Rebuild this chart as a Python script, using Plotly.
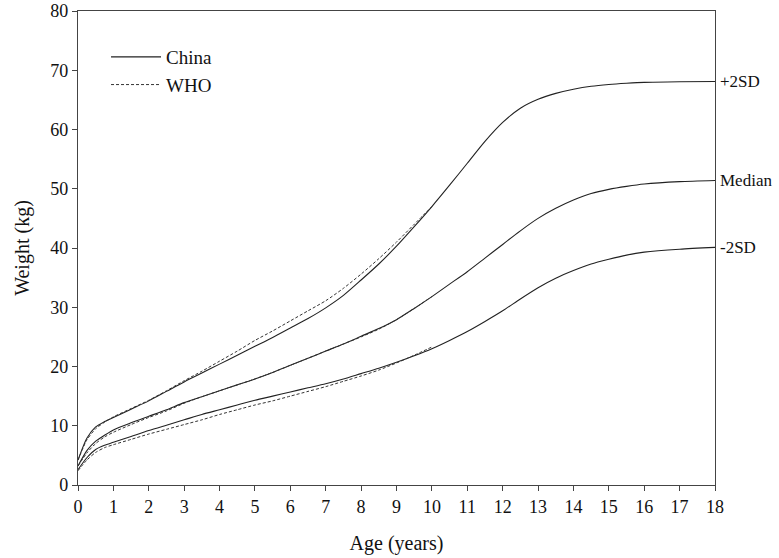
import plotly.graph_objects as go

ages_china = [0, 0.25, 0.5, 0.75, 1, 1.5, 2, 2.5, 3, 3.5, 4, 4.5, 5, 5.5, 6, 6.5, 7, 7.5, 8,
              8.5, 9, 9.5, 10, 10.5, 11, 11.5, 12, 12.5, 13, 13.5, 14, 14.5, 15, 15.5, 16, 17, 18]
china_p2sd = [4.2, 7.9, 9.8, 10.7, 11.4, 12.8, 14.2, 15.8, 17.4, 18.9, 20.4, 21.9, 23.4, 24.9, 26.5,
              28.1, 29.9, 32.0, 34.6, 37.3, 40.3, 43.6, 47.0, 50.6, 54.3, 58.0, 61.2, 63.6, 65.1,
              66.1, 66.8, 67.3, 67.6, 67.8, 67.95, 68.05, 68.1]
china_median = [3.2, 5.8, 7.4, 8.4, 9.3, 10.5, 11.6, 12.7, 13.9, 14.9, 15.9, 16.9, 17.9, 19.0, 20.2,
                21.4, 22.6, 23.8, 25.1, 26.4, 27.9, 29.8, 31.8, 33.9, 36.0, 38.3, 40.6, 42.9, 45.0,
                46.7, 48.1, 49.2, 49.9, 50.4, 50.8, 51.2, 51.4]
china_m2sd = [2.6, 4.6, 6.0, 6.7, 7.2, 8.2, 9.2, 10.1, 11.0, 11.9, 12.7, 13.5, 14.3, 15.0, 15.7,
              16.4, 17.1, 17.9, 18.8, 19.7, 20.7, 21.8, 23.0, 24.4, 25.9, 27.6, 29.4, 31.4, 33.3,
              34.9, 36.2, 37.3, 38.1, 38.8, 39.3, 39.8, 40.1]

ages_who = [0, 0.25, 0.5, 0.75, 1, 1.5, 2, 2.5, 3, 3.5, 4, 4.5, 5, 5.5, 6, 6.5, 7, 7.5, 8, 8.5,
            9, 9.5, 10]
who_p2sd = [4.2, 7.6, 9.5, 10.6, 11.5, 12.9, 14.3, 15.9, 17.6, 19.2, 20.9, 22.6, 24.4, 26.0, 27.7,
            29.4, 31.1, 33.2, 35.6, 38.2, 41.0, 44.0, 47.0]
who_median = [3.2, 5.4, 7.0, 8.1, 8.9, 10.2, 11.4, 12.5, 13.8, 14.9, 15.9, 16.9, 17.9, 19.0, 20.2,
              21.4, 22.6, 23.8, 25.0, 26.3, 27.9, 29.8, 31.8]
who_m2sd = [2.4, 4.2, 5.5, 6.3, 6.8, 7.7, 8.6, 9.4, 10.2, 11.0, 11.9, 12.7, 13.5, 14.2, 15.0,
            15.8, 16.6, 17.5, 18.4, 19.4, 20.6, 21.9, 23.3]

end_labels = ["+2SD", "Median", "-2SD"]

FONT = "Liberation Serif"
fig = go.Figure()

for i, ys in enumerate([china_p2sd, china_median, china_m2sd]):
    fig.add_trace(go.Scatter(
        x=ages_china, y=ys, mode="lines", name="China", legendgroup="china",
        showlegend=(i == 0), line=dict(color="#222", width=1.1, shape="spline", smoothing=0.7)))
for i, ys in enumerate([who_p2sd, who_median, who_m2sd]):
    fig.add_trace(go.Scatter(
        x=ages_who, y=ys, mode="lines", name="WHO", legendgroup="who",
        showlegend=(i == 0), line=dict(color="#333", width=1, dash="3px,2px", shape="spline", smoothing=0.7)))

for lab, ys in zip(end_labels, [china_p2sd, china_median, china_m2sd]):
    fig.add_annotation(x=ages_china[-1], y=ys[-1], text=lab, showarrow=False,
                       xanchor="left", yanchor="middle", xshift=3,
                       font=dict(family=FONT, size=17, color="#111"))

axis_common = dict(showgrid=False, zeroline=False, showline=True, linecolor="#444", linewidth=1.2,
                   mirror=True, ticks="outside", ticklen=5, tickcolor="#444", automargin=False,
                   tickfont=dict(family=FONT, size=18, color="#111"))

fig.update_layout(
    width=779, height=558,
    margin=dict(l=78, r=64, t=11, b=73),
    paper_bgcolor="white", plot_bgcolor="white",
    font=dict(family=FONT, size=18, color="#111"),
    legend=dict(x=0.044, y=0.943, xanchor="left", yanchor="top", bgcolor="rgba(0,0,0,0)",
                font=dict(family=FONT, size=19), tracegroupgap=0, itemwidth=50),
    xaxis=dict(range=[0, 18], tickvals=list(range(0, 19)),
               title=dict(text="Age (years)", font=dict(family=FONT, size=20), standoff=20),
               **axis_common),
    yaxis=dict(range=[0, 80], tickvals=list(range(0, 81, 10)),
               title=dict(text="Weight (kg)", font=dict(family=FONT, size=20), standoff=15),
               **axis_common),
)

fig.write_html("out.html", config={"displayModeBar": False},
               post_script="document.body.style.margin='0';")
